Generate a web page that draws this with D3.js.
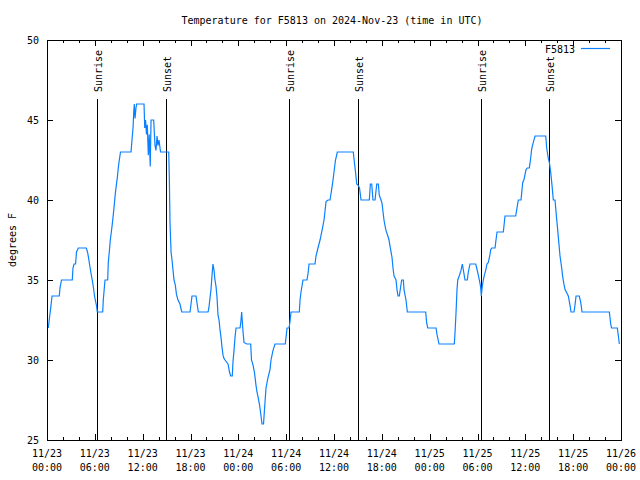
<!DOCTYPE html>
<html><head><meta charset="utf-8">
<script src="https://cdn.jsdelivr.net/npm/d3@7/dist/d3.min.js"></script>
<style>
body{margin:0;background:#fff;}
text{font-family:"DejaVu Sans Mono",monospace;font-size:10px;fill:#000;}
</style></head>
<body><svg id="c" width="640" height="480"></svg>
<script>
// hours since 2024-11-23 00:00 UTC
const hours = [0.16,0.34,0.50,0.63,1.54,1.63,1.82,3.17,3.26,3.39,3.58,3.70,3.93,4.93,5.08,5.21,5.33,5.46,5.58,5.71,5.83,5.96,6.08,6.21,6.31,6.99,7.06,7.19,7.28,7.61,7.69,7.82,7.94,8.07,8.19,8.32,8.44,8.57,8.69,8.82,8.94,9.07,9.22,10.54,10.66,10.79,10.88,10.95,11.04,11.16,11.25,12.17,12.26,12.36,12.48,12.58,12.71,12.82,12.95,13.05,13.38,13.55,13.67,13.80,13.92,14.05,14.24,15.27,15.34,15.43,15.56,15.68,15.81,15.93,16.09,16.24,16.43,16.68,16.90,17.94,18.19,18.69,18.98,20.20,20.32,20.45,20.57,20.70,20.82,20.95,21.07,21.20,21.33,21.45,21.58,21.70,21.83,21.95,22.08,22.20,22.33,22.71,22.89,23.04,23.24,23.33,23.46,23.58,23.71,24.21,24.30,24.42,24.50,24.59,24.71,25.05,25.55,25.65,25.84,26.03,26.22,26.34,26.47,26.66,26.78,26.97,27.16,27.28,27.47,27.72,27.97,28.10,28.35,28.60,29.89,29.98,30.11,30.36,30.48,30.61,31.65,31.74,31.86,32.11,32.61,32.74,32.87,33.62,33.74,33.87,33.99,34.25,34.50,34.75,35.00,35.25,35.50,35.69,35.88,36.06,36.19,36.42,38.42,38.57,38.70,38.85,39.05,39.20,39.39,40.43,40.56,40.73,40.89,41.15,41.36,41.56,41.68,41.90,42.02,42.15,42.27,42.40,42.52,42.78,42.90,43.03,43.28,43.40,43.53,43.78,43.90,44.03,44.19,44.34,44.49,44.70,44.78,45.03,45.20,47.50,47.63,47.76,48.80,48.92,49.17,51.09,51.18,51.31,51.43,51.52,51.74,51.93,52.10,52.27,52.43,52.72,52.85,53.06,53.78,53.90,54.10,54.23,54.38,54.48,54.60,54.73,54.86,55.03,55.19,55.36,55.57,55.66,55.78,56.20,56.32,56.45,57.24,57.45,58.79,58.92,59.12,59.46,59.67,59.84,60.09,60.25,60.50,60.59,60.80,61.00,61.22,62.56,62.68,62.88,63.03,63.18,63.35,63.51,63.72,63.85,64.01,64.19,64.35,64.56,64.69,64.82,64.98,65.19,65.39,65.61,65.73,66.11,66.27,66.36,66.77,66.95,67.11,70.54,70.71,70.81,71.54,71.67,71.79];
const temps = [32.0,32.75,33.4,34,34,34.5,35,35,35.75,36,36,36.75,37,37,36.75,36.4,36,35.6,35.25,34.9,34.5,34,33.7,33.4,33,33,33.75,34.5,35,35,36.1,36.8,37.5,38,38.5,39.1,39.7,40.4,40.9,41.4,42,42.5,43,43,43.75,44.5,45.5,46,45.1,45.75,46,46,44.5,45,44.1,44.7,42.8,44.1,42.1,45,45,43.4,43.1,44,43.4,43.75,43,43,41.5,38.6,36.75,36.25,35.6,35,34.7,34.1,33.75,33.5,33,33,34,34,33,33,33.3,33.9,34.4,35.3,36,35.6,35,34.6,33.9,32.8,32.5,31.9,31.4,30.8,30.3,30.1,30,29.75,29.25,29,29,29.9,30.6,31.4,32,32,32.3,33,32.4,31.75,31.1,31,31,30,29.7,29.2,28.4,28,27.7,27.2,26.75,26,26,26.9,28.25,28.9,29.4,30,30.6,31,31,31.4,32,32,32.4,33,33,33.75,34.25,35,35,35.4,36,36,36.5,36.75,37,37.5,38.1,38.75,39.9,40,40,40.6,41.25,42,42.5,43,43,42.3,41.75,41,40.9,40.75,40,40,41,41,40,40,41,41,40.3,40,39.8,39.25,38.75,38.4,38.1,37.7,37.5,37.1,36.4,35.75,35.25,35,34.4,34,34,34.5,35,35,34.4,33.75,33,33,32.3,32,32,31.6,31,31,31.7,33,34.4,35,35.3,35.6,36,35.5,35,35,35.5,36,36,35.75,35.3,35,34.6,34,34.6,35,35.3,35.6,36,36.1,36.6,36.9,37,37,37.5,38,38,39,39,39.4,40,40,41.1,41.3,41.9,42,42,42.3,43.2,43.6,44,44,43.25,42.6,42.3,41.75,40.9,40,40,39.25,38.4,37.4,36.5,35.75,35.2,34.8,34.4,34.2,34,33.4,33,33,33.6,34,34,33.6,33,33,32.25,32,32,31.5,31];
const eventLabels = ["Sunrise","Sunset","Sunrise","Sunset","Sunrise","Sunset"];
const eventHours = [6.31,14.97,30.39,39.05,54.48,63.01];
const xTickHours = [0,6,12,18,24,30,36,42,48,54,60,66,72];
const xTickDates = ["11/23","11/23","11/23","11/23","11/24","11/24","11/24","11/24","11/25","11/25","11/25","11/25","11/26"];
const xTickTimes = ["00:00","06:00","12:00","18:00","00:00","06:00","12:00","18:00","00:00","06:00","12:00","18:00","00:00"];
const yTicks = [25,30,35,40,45,50];
const seriesName = "F5813";
const titleText = "Temperature for F5813 on 2024-Nov-23 (time in UTC)";
const yLabel = "degrees F";

const L=47, R=621, T=40, B=440;
const svg = d3.select("#c");
const x = d3.scaleLinear().domain([0,72]).range([L,R]);
const y = d3.scaleLinear().domain([25,50]).range([B,T]);
const minor = d3.range(0,73,2);

// ticks
const g = svg.append("g").attr("stroke","#000").attr("stroke-width",1);
function ticksX(yy, dir){
  g.append("g").attr("transform",`translate(0,${yy})`)
   .call(d3.axisBottom(x).tickValues(minor).tickSize(dir*3).tickFormat("").tickSizeOuter(0))
   .call(a=>a.select(".domain").remove());
  g.append("g").attr("transform",`translate(0,${yy})`)
   .call(d3.axisBottom(x).tickValues(xTickHours).tickSize(dir*6).tickFormat("").tickSizeOuter(0))
   .call(a=>a.select(".domain").remove());
}
ticksX(B,-1); ticksX(T,1);
g.append("g").attr("transform",`translate(${L},0)`)
 .call(d3.axisLeft(y).tickValues(yTicks).tickSize(-6).tickFormat("").tickSizeOuter(0))
 .call(a=>a.select(".domain").remove());
g.append("g").attr("transform",`translate(${R},0)`)
 .call(d3.axisLeft(y).tickValues(yTicks).tickSize(6).tickFormat("").tickSizeOuter(0))
 .call(a=>a.select(".domain").remove());
svg.selectAll(".tick line").attr("stroke","#000").attr("shape-rendering","crispEdges");

// y labels
svg.append("g").selectAll("text").data(yTicks).join("text")
  .attr("x",L-8).attr("y",d=>y(d)).attr("dy","0.35em").attr("text-anchor","end").text(d=>d);
// x labels
const xl = svg.append("g").selectAll("text").data(xTickHours).join("text")
  .attr("x",d=>x(d)).attr("y",B+17).attr("text-anchor","middle");
xl.append("tspan").attr("x",d=>x(d)).text((d,i)=>xTickDates[i]);
xl.append("tspan").attr("x",d=>x(d)).attr("dy",14).text((d,i)=>xTickTimes[i]);

// sunrise/sunset
const ev = svg.append("g");
ev.selectAll("line").data(eventHours).join("line")
  .attr("x1",d=>x(d)).attr("x2",d=>x(d)).attr("y1",99).attr("y2",B)
  .attr("stroke","#000").attr("stroke-width",1).attr("shape-rendering","crispEdges");
ev.selectAll("text").data(eventHours).join("text")
  .attr("transform",d=>`translate(${x(d)+1},92) rotate(-90)`)
  .attr("dy","0.35em").text((d,i)=>eventLabels[i]);

// data line
svg.append("path").datum(hours.map((h,i)=>[h,temps[i]]))
  .attr("fill","none").attr("stroke","#0a80ff").attr("stroke-width",1.2)
  .attr("d",d3.line().x(d=>x(d[0])).y(d=>y(d[1])));

// frame
svg.append("rect").attr("x",L).attr("y",T).attr("width",R-L).attr("height",B-T)
  .attr("fill","none").attr("stroke","#000").attr("shape-rendering","crispEdges");

// title, y label, legend
svg.append("text").attr("x",332).attr("y",20).attr("dy","0.35em").attr("text-anchor","middle").text(titleText);
svg.append("text").attr("transform","translate(12,240) rotate(-90)").attr("dy","0.35em").attr("text-anchor","middle").text(yLabel);
svg.append("text").attr("x",575).attr("y",49).attr("dy","0.35em").attr("text-anchor","end").text(seriesName);
svg.append("line").attr("x1",581).attr("x2",610).attr("y1",48.5).attr("y2",48.5).attr("stroke","#0a80ff").attr("stroke-width",1.2);
</script></body></html>
